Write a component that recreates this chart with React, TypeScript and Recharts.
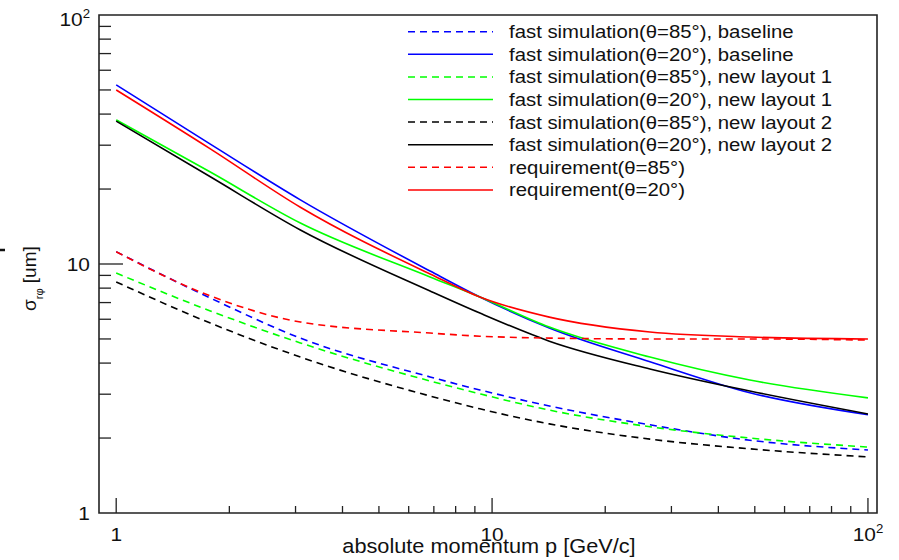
import React from 'react';
import { LineChart, Line, XAxis, YAxis, Legend, ReferenceArea } from 'recharts';

// momentum points (GeV/c)
const momentum = [1, 1.78, 3.09, 6.84, 9.28, 14.2, 26.3, 48.5, 100];

const base85 = [11.2, 7.3, 5.04, 3.52, 3.12, 2.69, 2.26, 1.96, 1.79];
const base20 = [52.4, 30.3, 18.1, 9.37, 7.37, 5.53, 4.05, 3.04, 2.48];
const lay1_85 = [9.2, 6.48, 4.82, 3.39, 3.01, 2.59, 2.22, 2.0, 1.84];
const lay1_20 = [37.9, 23.4, 14.6, 8.87, 7.37, 5.58, 4.23, 3.42, 2.9];
const lay2_85 = [8.47, 5.79, 4.23, 2.95, 2.62, 2.28, 1.98, 1.81, 1.68];
const lay2_20 = [37.5, 22.4, 13.7, 7.79, 6.35, 4.9, 3.79, 3.09, 2.5];
const req85 = [11.2, 7.44, 5.85, 5.28, 5.13, 5.04, 5.0, 5.0, 4.95];
const req20 = [50.0, 29.0, 16.9, 9.12, 7.37, 6.12, 5.33, 5.09, 5.0];

const xTicks = [1, 2, 3, 4, 5, 6, 7, 8, 9, 10, 20, 30, 40, 50, 60, 70, 80, 90, 100];
const yTicks = [1, 2, 3, 4, 5, 6, 7, 8, 9, 10, 20, 30, 40, 50, 60, 70, 80, 90, 100];

const series = [
  { key: 'base85', name: 'fast simulation(θ=85°), baseline', color: '#0000ff', dash: '7 5', values: base85 },
  { key: 'base20', name: 'fast simulation(θ=20°), baseline', color: '#0000ff', dash: undefined, values: base20 },
  { key: 'lay1_85', name: 'fast simulation(θ=85°), new layout 1', color: '#00ff00', dash: '7 5', values: lay1_85 },
  { key: 'lay1_20', name: 'fast simulation(θ=20°), new layout 1', color: '#00ff00', dash: undefined, values: lay1_20 },
  { key: 'lay2_85', name: 'fast simulation(θ=85°), new layout 2', color: '#000000', dash: '7 5', values: lay2_85 },
  { key: 'lay2_20', name: 'fast simulation(θ=20°), new layout 2', color: '#000000', dash: undefined, values: lay2_20 },
  { key: 'req85', name: 'requirement(θ=85°)', color: '#ff0000', dash: '7 5', values: req85 },
  { key: 'req20', name: 'requirement(θ=20°)', color: '#ff0000', dash: undefined, values: req20 },
];

const data = momentum.map((p, i) => {
  const row: Record<string, number> = { p };
  series.forEach((s) => (row[s.key] = s.values[i]));
  return row;
});

const W = 899;
const H = 560;
const LEFT = 99;
const TOP = 15;
const RIGHT = 877;
const BOTTOM = 513;
const X_MIN = 0.9;
const X_MAX = 105.7;
const FONT = '"Liberation Sans", Arial, Helvetica, sans-serif';
const SX = 1.1; // picture is stretched horizontally a bit

const isMajor = (v: number) => v === 1 || v === 10 || v === 100;

const Power = ({ v }: { v: number }) =>
  v === 100 ? (
    <>
      10<tspan dy={-8} fontSize={12}>2</tspan>
    </>
  ) : (
    <>{v}</>
  );

const YTick = (props: any) => {
  const { y, payload } = props;
  const v = payload.value;
  const major = isMajor(v);
  return (
    <g>
      {v !== 1 && v !== 100 && (
        <line x1={LEFT} x2={LEFT + (major ? 24 : 12)} y1={y} y2={y} stroke="#222" strokeWidth={1.3} />
      )}
      {major && (
        <text
          transform={`translate(90,${y + (v === 100 ? 11 : 7)}) scale(${SX},1)`}
          textAnchor="end"
          fontSize={19}
          fontFamily={FONT}
          fill="#111"
        >
          <Power v={v} />
        </text>
      )}
    </g>
  );
};

const XTick = (props: any) => {
  const { x, payload } = props;
  const v = payload.value;
  const major = isMajor(v);
  return (
    <g>
      <line x1={x} x2={x} y1={BOTTOM} y2={BOTTOM - (major ? 15 : 7)} stroke="#222" strokeWidth={1.3} />
      {major && (
        <text
          transform={`translate(${x},541) scale(${SX},1)`}
          textAnchor="middle"
          fontSize={19}
          fontFamily={FONT}
          fill="#111"
        >
          <Power v={v} />
        </text>
      )}
    </g>
  );
};

const LegendBox = () => (
  <svg width={W} height={210} style={{ display: 'block' }}>
    {series.map((s, i) => {
      const y = 31.7 + i * 22.6;
      return (
        <g key={s.key}>
          <line x1={408} x2={493} y1={y} y2={y} stroke={s.color} strokeWidth={1.5} strokeDasharray={s.dash} />
          <text
            transform={`translate(509,${y + 6.5}) scale(${SX},1)`}
            fontSize={18.5}
            fontFamily={FONT}
            fill="#111"
          >
            {s.name}
          </text>
        </g>
      );
    })}
  </svg>
);

export default function App() {
  return (
    <div style={{ position: 'absolute', left: 0, top: 0, width: W, height: H, background: '#fff' }}>
      <LineChart
        width={W}
        height={H}
        data={data}
        margin={{ top: TOP, right: W - RIGHT, left: 0, bottom: 0 }}
      >
        <XAxis
          dataKey="p"
          type="number"
          scale="log"
          domain={[X_MIN, X_MAX]}
          allowDataOverflow
          ticks={xTicks}
          interval={0}
          tick={<XTick />}
          tickLine={false}
          axisLine={false}
          height={H - BOTTOM}
        />
        <YAxis
          type="number"
          scale="log"
          domain={[1, 100]}
          allowDataOverflow
          ticks={yTicks}
          interval={0}
          tick={<YTick />}
          tickLine={false}
          axisLine={false}
          width={LEFT}
        />
        <ReferenceArea
          x1={X_MIN}
          x2={X_MAX}
          y1={1}
          y2={100}
          fill="none"
          fillOpacity={0}
          stroke="#222"
          strokeWidth={1.6}
          ifOverflow="visible"
        />
        {series.map((s) => (
          <Line
            key={s.key}
            dataKey={s.key}
            name={s.name}
            type="monotone"
            stroke={s.color}
            strokeWidth={1.6}
            strokeDasharray={s.dash}
            dot={false}
            activeDot={false}
            isAnimationActive={false}
          />
        ))}
        <Legend
          layout="vertical"
          align="center"
          verticalAlign="middle"
          content={<LegendBox />}
          wrapperStyle={{ left: 0, top: 0, width: W, height: 210 }}
        />
      </LineChart>
      <svg width={W} height={H} style={{ position: 'absolute', left: 0, top: 0, pointerEvents: 'none' }}>
        <text
          transform={`translate(489,553) scale(1.06,1)`}
          textAnchor="middle"
          fontSize={20.5}
          fontFamily={FONT}
          fill="#111"
        >
          absolute momentum p [GeV/c]
        </text>
        <text
          transform="translate(36,311) rotate(-90)"
          fontSize={19}
          fontFamily={FONT}
          fill="#111"
        >
          σ<tspan fontSize={11} dy={7}>rφ</tspan>
          <tspan dy={-7}> [um]</tspan>
        </text>
        <line x1={0} x2={5} y1={250} y2={250} stroke="#111" strokeWidth={2.5} />
      </svg>
    </div>
  );
}
